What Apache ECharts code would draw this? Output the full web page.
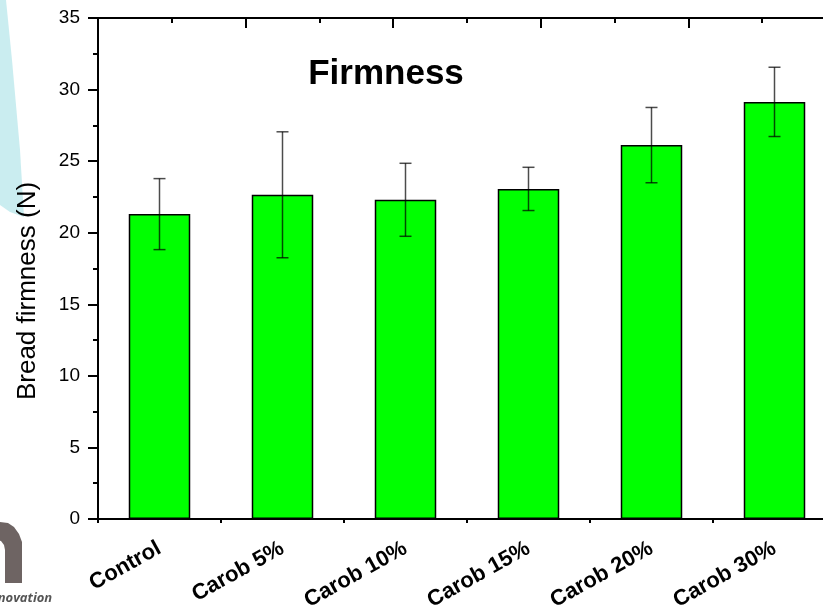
<!DOCTYPE html>
<html>
<head>
<meta charset="utf-8">
<script src="https://cdn.jsdelivr.net/npm/echarts@6/dist/echarts.min.js"></script>
<style>
  html, body { margin: 0; padding: 0; background: #fff; }
  #chart { width: 823px; height: 613px; }
</style>
</head>
<body>
<div id="chart"></div>
<script>
// Bread firmness by carob flour substitution level
const categories = ['Control', 'Carob 5%', 'Carob 10%', 'Carob 15%', 'Carob 20%', 'Carob 30%'];
const firmness = [21.3, 22.65, 22.3, 23.06, 26.12, 29.14];
const firmnessSD = [2.48, 4.4, 2.55, 1.51, 2.63, 2.42];
const yMin = 0, yMax = 35, yStep = 5;

const chart = echarts.init(document.getElementById('chart'), null, { renderer: 'canvas' });

const axisLineStyle = { color: '#000', width: 2 };
const tickStyle = { color: '#000', width: 2 };

const errorData = firmness.map((v, i) => [i, v - firmnessSD[i], v + firmnessSD[i]]);

// logo arch in the lower-left corner
const archPoints = [
  [-30, 583], [-30, 522], [0, 522], [8, 523], [14, 527], [19, 534], [22, 542], [22, 583],
  [5, 583], [5, 550], [4, 545], [1, 541], [-4, 540], [-12, 540], [-12, 583]
];

chart.setOption({
  animation: false,
  backgroundColor: '#fff',
  title: {
    text: 'Firmness',
    left: 381,
    top: 52,
    textAlign: 'center',
    textStyle: { fontFamily: 'Liberation Sans', fontWeight: 'bold', fontSize: 35, color: '#000' }
  },
  // the plot frame runs past the right edge of the canvas
  grid: { left: 98, top: 18, bottom: 94, right: -13, containLabel: false, outerBoundsMode: 'none' },
  graphic: [
    {
      type: 'polygon', z: -10, silent: true,
      shape: { points: [[0, 0], [6, 0], [12, 60], [20, 150], [24, 217], [10, 212], [0, 205]] },
      style: { fill: 'rgba(150,220,225,0.5)' }
    },
    {
      type: 'polygon', z: -10, silent: true,
      shape: { points: archPoints },
      style: { fill: '#6e6463' }
    },
    {
      type: 'text', z: -10, silent: true,
      left: -14, top: 592,
      style: { text: 'innovation', fill: '#555', font: 'italic bold 13px "Open Sans"' }
    },
    {
      type: 'text',
      x: 28, y: 291, rotation: Math.PI / 2,
      style: {
        text: 'Bread firmness (N)', fill: '#000',
        font: '26px "Liberation Sans"', textAlign: 'center', textVerticalAlign: 'middle'
      }
    }
  ],
  xAxis: [
    {
      type: 'category', position: 'bottom', data: categories,
      axisLine: { lineStyle: axisLineStyle },
      axisTick: { alignWithLabel: true, length: 9, lineStyle: tickStyle },
      axisLabel: {
        rotate: 29, margin: 28, color: '#000',
        fontFamily: 'Liberation Sans', fontWeight: 'bold', fontSize: 22, interval: 0
      }
    },
    {
      type: 'value', position: 'bottom', min: 0, max: 6, interval: 1,
      axisLine: { show: false },
      axisTick: { length: 4, lineStyle: tickStyle },
      axisLabel: { show: false }, splitLine: { show: false }
    },
    {
      type: 'value', position: 'top', min: 0, max: 10, interval: 2,
      axisLine: { show: true, onZero: false, lineStyle: axisLineStyle },
      axisTick: { inside: true, length: 10, lineStyle: tickStyle },
      minorTick: { show: true, splitNumber: 2, length: 5, lineStyle: tickStyle },
      axisLabel: { show: false }, splitLine: { show: false }
    }
  ],
  yAxis: {
    type: 'value', min: yMin, max: yMax, interval: yStep,
    axisLine: { show: true, lineStyle: axisLineStyle },
    axisTick: { show: true, length: 10, lineStyle: tickStyle },
    minorTick: { show: true, splitNumber: 2, length: 5, lineStyle: tickStyle },
    axisLabel: { margin: 18, color: '#000', fontFamily: 'Liberation Sans', fontSize: 19 },
    splitLine: { show: false }
  },
  series: [
    {
      type: 'bar', data: firmness, barWidth: '50%', xAxisIndex: 0,
      itemStyle: { color: '#00ff00', borderColor: '#000', borderWidth: 1.5 }
    },
    {
      type: 'custom', xAxisIndex: 0, data: errorData, z: 5,
      renderItem: function (params, api) {
        const x = api.value(0);
        const lo = api.coord([x, api.value(1)]);
        const hi = api.coord([x, api.value(2)]);
        const half = 6;
        const style = { stroke: 'rgba(0,0,0,0.7)', lineWidth: 1.5 };
        return {
          type: 'group',
          children: [
            { type: 'line', shape: { x1: hi[0], y1: hi[1], x2: lo[0], y2: lo[1] }, style: style },
            { type: 'line', shape: { x1: hi[0] - half, y1: hi[1], x2: hi[0] + half, y2: hi[1] }, style: style },
            { type: 'line', shape: { x1: lo[0] - half, y1: lo[1], x2: lo[0] + half, y2: lo[1] }, style: style }
          ]
        };
      }
    }
  ]
});
</script>
</body>
</html>
